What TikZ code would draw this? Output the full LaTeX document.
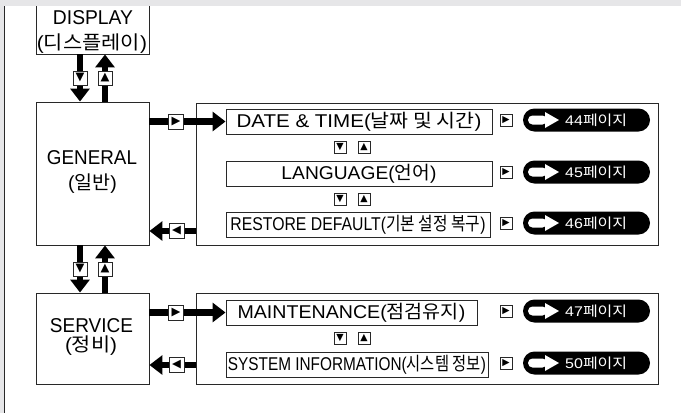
\documentclass[tikz,border=0pt]{standalone}
\usepackage{fontspec}
\setmainfont{Liberation Sans}
\newfontfamily\kr{Noto Sans CJK KR}
\newfontfamily\sym{DejaVu Sans}
\usetikzlibrary{arrows.meta,shapes.misc}
\definecolor{band}{RGB}{230,230,232}
\definecolor{edge}{RGB}{40,40,40}
\newcommand\fitt[3]{\resizebox{#1pt}{\height}{\fontsize{#2}{#2}\selectfont #3}}
\newcommand\pillrow[3]{%
  \node[pill] (#1) at (586.5,#2) {};
  \fill[white,rounded corners=4.5pt] (528,{#2-4.5}) rectangle (547,{#2+4.5});
  \fill[white] (545,{#2-8}) -- (559,#2) -- (545,{#2+8}) -- cycle;
  \node[anchor=base west,text=white,inner sep=0pt] (#1t) at (565,{#2+5}) {\fitt{62}{14}{#3{\kr 페이지}}};
}
\tikzset{
  x=1pt,y=-1pt,
  box/.style={draw=edge,line width=0.9pt,inner sep=0pt,fill=white},
  bigarrow/.style={draw=black,line width=6.5pt,-{Triangle[length=13pt,width=19pt]}},
  mk/.style={draw=edge,line width=0.8pt,fill=white,inner sep=0pt,minimum size=12pt,
    font=\sym\fontsize{9.5}{9.5}\selectfont},
  mkbig/.style={draw=edge,line width=0.8pt,fill=white,inner sep=0pt,minimum size=#1,
    font=\sym\fontsize{11.5}{11.5}\selectfont},
  pill/.style={rounded rectangle,fill=black,minimum width=127pt,minimum height=23pt,inner sep=0pt},
  lbl/.style={anchor=base,inner sep=0pt},
}
\begin{document}
\begin{tikzpicture}
\useasboundingbox (0,0) rectangle (681,413);
\fill[white] (0,0) rectangle (681,413);
% main boxes
\node[box,minimum width=113pt,minimum height=60pt] (disp) at (92.5,24) {};
\node[box,minimum width=113pt,minimum height=143pt] (gen) at (92.5,173.5) {};
\node[box,minimum width=113pt,minimum height=91pt] (serv) at (92.5,338.5) {};
% top band and left strip
\fill[band] (0,0) rectangle (681,6);
\fill[band] (0,0) rectangle (3.6,413);
\draw[edge,line width=1.4pt] (4.6,6) -- (4.6,413);
% labels of main boxes
\node[lbl] (dispa) at (93,24) {\fitt{80}{20}{DISPLAY}};
\node[lbl] (dispb) at (92,49) {\fitt{110}{19}{({\kr 디스플레이})}};
\node[lbl] (gena) at (92,164) {\fitt{90}{20}{GENERAL}};
\node[lbl] (genb) at (92.5,189) {\fitt{49}{19}{({\kr 일반})}};
\node[lbl] (serva) at (91.5,332) {\fitt{83}{20}{SERVICE}};
\node[lbl] (servb) at (91,351) {\fitt{52}{19}{({\kr 정비})}};
% containers
\node[box,minimum width=462pt,minimum height=142pt] (cont1) at (427,174) {};
\node[box,minimum width=462pt,minimum height=91pt] (cont2) at (427,338.5) {};
% menu items
\node[box,minimum width=266pt,minimum height=25pt] (date) at (359,121.5) {\fitt{245}{18.5}{DATE \& TIME({\kr 날짜 및 시간})}};
\node[box,minimum width=266pt,minimum height=25pt] (lang) at (359,173.5) {\fitt{155}{18.5}{LANGUAGE({\kr 언어})}};
\node[box,minimum width=264pt,minimum height=25pt] (rest) at (358,224.5) {\fitt{255}{18.5}{RESTORE DEFAULT({\kr 기본 설정 복구})}};
\node[box,minimum width=251pt,minimum height=25pt] (maint) at (351.5,312.5) {\fitt{228}{18.5}{MAINTENANCE({\kr 점검유지})}};
\node[box,minimum width=262pt,minimum height=25pt] (sys) at (357,364.5) {\fitt{258}{18.5}{SYSTEM INFORMATION({\kr 시스템 정보})}};
% row markers
\node[mk] (d1) at (340,147.5) {▼};
\node[mk] (u1) at (364,147.5) {▲};
\node[mk] (d2) at (340,199) {▼};
\node[mk] (u2) at (364,199) {▲};
\node[mk] (d3) at (340,338.5) {▼};
\node[mk] (u3) at (364,338.5) {▲};
% go markers and pills
\node[mk] (g1) at (506,120.5) {▶};
\node[mk] (g2) at (506,172.5) {▶};
\node[mk] (g3) at (506,223.5) {▶};
\node[mk] (g4) at (506,311.5) {▶};
\node[mk] (g5) at (506,363.5) {▶};
\pillrow{p1}{120}{44}
\pillrow{p2}{172}{45}
\pillrow{p3}{223}{46}
\pillrow{p4}{311}{47}
\pillrow{p5}{363}{50}
% vertical arrows
\draw[bigarrow] ([xshift=-12.5pt]disp.south) -- ([xshift=-12.5pt]gen.north);
\draw[bigarrow] ([xshift=12.5pt]gen.north) -- ([xshift=12.5pt]disp.south);
\draw[bigarrow] ([xshift=-12.5pt]gen.south) -- ([xshift=-12.5pt]serv.north);
\draw[bigarrow] ([xshift=12.5pt]serv.north) -- ([xshift=12.5pt]gen.south);
\node[mkbig=14pt] (v1) at (80,78) {▼};
\node[mkbig=14pt] (v2) at (105,78) {▲};
\node[mkbig=14pt] (v3) at (80,269) {▼};
\node[mkbig=14pt] (v4) at (105,269) {▲};
% horizontal arrows
\coordinate (b1) at (196,231);
\coordinate (b2) at (196,365);
\draw[bigarrow] (date.west -| gen.east) -- (date.west);
\draw[bigarrow] (b1) -- (b1 -| gen.east);
\draw[bigarrow] (maint.west -| serv.east) -- (maint.west);
\draw[bigarrow] (b2) -- (b2 -| serv.east);
\node[mkbig=15pt] (h1) at (176,121.5) {▶};
\node[mkbig=15pt] (h2) at (176.5,231) {◀};
\node[mkbig=15pt] (h3) at (176,312.5) {▶};
\node[mkbig=15pt] (h4) at (176.5,365) {◀};
\end{tikzpicture}
\end{document}
